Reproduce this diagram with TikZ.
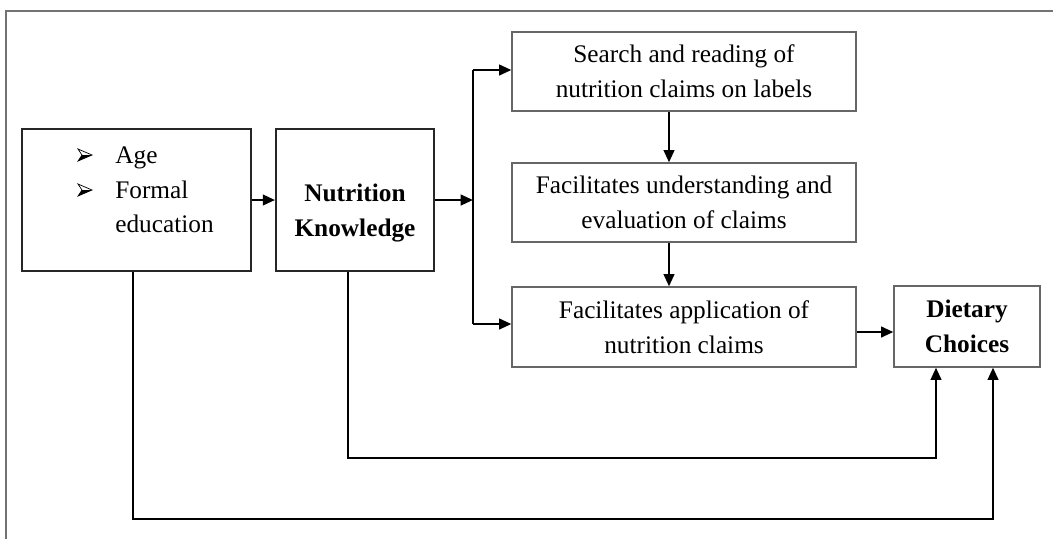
\documentclass[tikz,border=0pt]{standalone}
\usepackage{fontspec}
\setmainfont{Liberation Serif}
\usetikzlibrary{arrows.meta}
\begin{document}
\begin{tikzpicture}[x=0.02cm,y=-0.02cm,
  txt/.style={font=\fontsize{14.4}{19.8}\selectfont},
  boldtxt/.style={font=\fontsize{14.4}{19.8}\selectfont\bfseries},
  darkbox/.style={draw=black!85, line width=1.1pt, inner sep=0pt},
  graybox/.style={draw=black!60, line width=0.7pt, inner sep=0pt, align=center, txt},
  conn/.style={line width=1.4pt, black},
  arr/.style={conn, -{Triangle[length=7pt,width=6pt]}},
]
\useasboundingbox (0,0) rectangle (1053,539);
\draw[black!55, line width=0.9pt] (6,539) -- (6,11) -- (1053,11);

% boxes
\node[darkbox, minimum width=4.58cm, minimum height=2.84cm] (A) at (136.5,200) {};
\node[darkbox, minimum width=3.16cm, minimum height=2.84cm] (NK) at (355,200) {};
\node[boldtxt, align=center, inner sep=0pt] (NKt) at (355,213) {Nutrition\\Knowledge};

\node[graybox, minimum width=6.88cm, minimum height=1.58cm] (S) at (684,71.5) {Search and reading of\\nutrition claims on labels};
\node[graybox, minimum width=6.88cm, minimum height=1.58cm] (F) at (684,202.5) {Facilitates understanding and\\evaluation of claims};
\node[graybox, minimum width=6.88cm, minimum height=1.60cm] (App) at (684,327) {Facilitates application of\\nutrition claims};
\node[graybox, boldtxt, minimum width=2.92cm, minimum height=1.62cm] (Diet) at (967,326.5) {Dietary\\Choices};

% bullet list in first box
\node[txt, anchor=base west, inner sep=0pt] (ageT) at (115,163) {Age};
\node[txt, anchor=base west, inner sep=0pt] (formalT) at (115,198) {Formal};
\node[txt, anchor=base west, inner sep=0pt] (eduT) at (115,232) {education};
\draw[line width=0.4pt] (78,149) -- (92,155) -- (78,161) -- (82,155) -- cycle;
\fill (82,155) -- (92,155) -- (78,161) -- cycle;
\draw[line width=0.4pt] (78,184) -- (92,190) -- (78,196) -- (82,190) -- cycle;
\fill (82,190) -- (92,190) -- (78,196) -- cycle;

% connectors
\draw[arr] (A.east) -- (NK.west);
\coordinate (J) at (473,200);
\coordinate (Jt) at (473,70);
\coordinate (Jb) at (473,324);
\draw[arr] (NK.east) -- (J);
\draw[conn] (Jt) -- (Jb);
\draw[arr] (Jt) -- (Jt -| S.west);
\draw[arr] (Jb) -- (Jb -| App.west);
\coordinate (v) at (669,0);
\draw[arr] (v |- S.south) -- (v |- F.north);
\draw[arr] (v |- F.south) -- (v |- App.north);
\coordinate (h) at (0,332);
\draw[arr] (h -| App.east) -- (h -| Diet.west);
\coordinate (n1) at (348,458);
\coordinate (n2) at (936,458);
\draw[arr] (n1 |- NK.south) -- (n1) -- (n2) -- (n2 |- Diet.south);
\coordinate (a1) at (133,519);
\coordinate (a2) at (993,519);
\draw[arr] (a1 |- A.south) -- (a1) -- (a2) -- (a2 |- Diet.south);
\end{tikzpicture}
\end{document}
